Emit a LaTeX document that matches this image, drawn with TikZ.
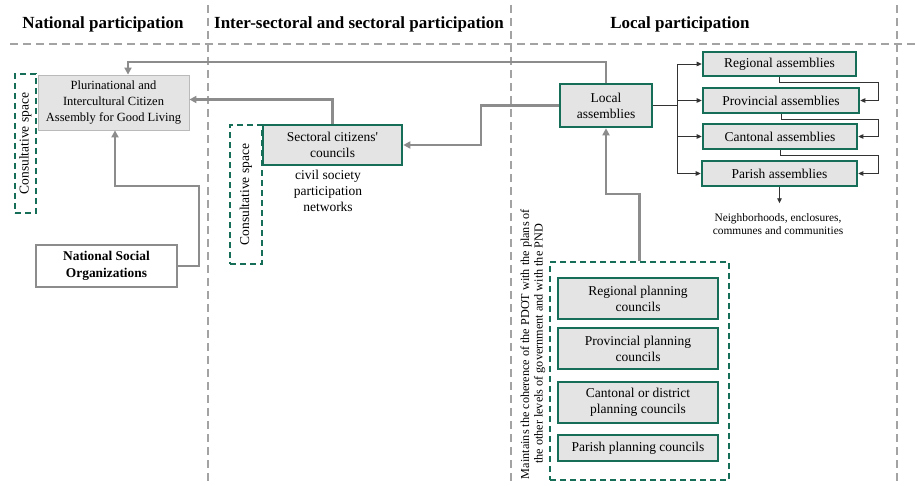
\documentclass[tikz,border=0pt]{standalone}
\usepackage{fontspec}
\setmainfont{Liberation Serif}
\usetikzlibrary{positioning, arrows.meta, calc}

\definecolor{bordergreen}{RGB}{22,110,88}
\definecolor{linegray}{RGB}{140,140,140}
\definecolor{boxgray}{RGB}{228,228,228}

\begin{document}
\begin{tikzpicture}[x=1pt, y=-1pt,
    divider/.style={draw=linegray!80, line width=2.2pt, dash pattern=on 8pt off 5pt},
    greenbox/.style={draw=bordergreen, line width=2.6pt, fill=boxgray, align=center,
      inner sep=1pt, font=\fontsize{13.5}{16}\selectfont},
    header/.style={font=\fontsize{17}{20}\selectfont\bfseries},
    consult/.style={draw=bordergreen, line width=2.4pt, dash pattern=on 6pt off 4pt},
    garrow/.style={draw=linegray, line width=2.4pt, -{Triangle[length=7pt,width=7pt]}},
    barrow/.style={draw=black!80, line width=0.9pt, -{Triangle[length=5pt,width=4.5pt]}}]
    \useasboundingbox (0,0) rectangle (916,486);

    % headers and dividers
    \node[header] (hnat) at (103,24) {National participation};
    \node[header] (hsec) at (359,24) {Inter-sectoral and sectoral participation};
    \node[header] (hloc) at (680,24) {Local participation};
    \draw[divider] (10,44) -- (916,44);
    \foreach \x in {208,511,897}
      \draw[divider] (\x,5) -- (\x,486);

    % national
    \node[consult, minimum width=21pt, minimum height=139pt] (cons1) at (25.5,143.5) {};
    \node[rotate=90, font=\fontsize{13.5}{16}\selectfont] (cons1txt) at (cons1) {Consultative space};
    \node[draw=linegray!60, line width=0.8pt, fill=boxgray, align=center, minimum width=151pt,
      minimum height=55pt, inner sep=1pt, font=\fontsize{12.5}{16}\selectfont] (plur) at (113.5,102.5)
      {Plurinational and\\Intercultural Citizen\\Assembly for Good Living};
    \node[draw=linegray, line width=2pt, fill=white, align=center, minimum width=141pt,
      minimum height=42pt, inner sep=1pt, font=\fontsize{13.4}{17}\selectfont\bfseries] (nso) at (106.5,266)
      {National Social\\Organizations};

    % sectoral
    \node[consult, minimum width=32pt, minimum height=139pt] (cons2) at (246,194.5) {};
    \node[rotate=90, font=\fontsize{13.5}{16}\selectfont] (cons2txt) at (cons2) {Consultative space};
    \node[greenbox, minimum width=139pt, minimum height=40pt] (sect) at (332.5,145)
      {Sectoral citizens\textquotesingle\\councils};
    \node[align=center, font=\fontsize{13.5}{16}\selectfont] (civil) at (328,191)
      {civil society\\participation\\networks};

    % local
    \node[greenbox, minimum width=92pt, minimum height=43pt] (local) at (606,105.5) {Local\\assemblies};
    \node[greenbox, minimum width=153pt, minimum height=24pt] (reg) at (779.5,64) {Regional assemblies};
    \node[greenbox, minimum width=156pt, minimum height=25pt] (prov) at (781,100.5) {Provincial assemblies};
    \node[greenbox, minimum width=154pt, minimum height=25pt] (cant) at (780,136.5) {Cantonal assemblies};
    \node[greenbox, minimum width=155pt, minimum height=25pt] (par) at (779.5,173.5) {Parish assemblies};
    \node[align=center, font=\fontsize{11.4}{13.5}\selectfont] (neigh) at (778,224)
      {Neighborhoods, enclosures,\\communes and communities};

    \node[consult, minimum width=179pt, minimum height=218pt] (plan) at (639.5,371) {};
    \node[greenbox, minimum width=160pt, minimum height=41pt] (rpc) at (638,298.5) {Regional planning\\councils};
    \node[greenbox, minimum width=160pt, minimum height=41pt] (ppc) at (638,348.5) {Provincial planning\\councils};
    \node[greenbox, minimum width=160pt, minimum height=41pt] (cpc) at (638,402.5) {Cantonal or district\\planning councils};
    \node[greenbox, minimum width=160pt, minimum height=26pt] (pac) at (638,448) {Parish planning councils};
    \node[rotate=90, align=center, font=\fontsize{12.2}{13.5}\selectfont] (maint) at (533,344)
      {Maintains the coherence of the PDOT with the plans of\\the other levels of government and with the PND};

    % connectors
    \coordinate (topline) at (0,62);
    \coordinate (split) at (677,105.5);
    \coordinate (chain) at (878,0);
    \draw[garrow] (local.north) -- (local.north |- topline) -| ([xshift=14.5pt]plur.north);
    \draw[garrow] (sect.north) |- ([yshift=3pt]plur.east);
    \draw[garrow] (local.west) -- ++(-78,0) |- (sect.east);
    \draw[garrow] (nso.east) -- ++(21,0) -- ++(0,-80) -| ([xshift=1.5pt]plur.south);
    \draw[garrow] (plan.north) -- ++(0,-67) -| (local.south);
    \foreach \n in {reg,prov,cant,par}
      \draw[barrow] (local.east) -- (split) |- (\n.west);
    \foreach \a/\b in {reg/prov,prov/cant,cant/par}
      \draw[barrow] (\a.south) -- ++(0,5) -| (chain |- \b.east) -- (\b.east);
    \draw[barrow] (par.south) -- ++(0,16);
  \end{tikzpicture}
\end{document}
